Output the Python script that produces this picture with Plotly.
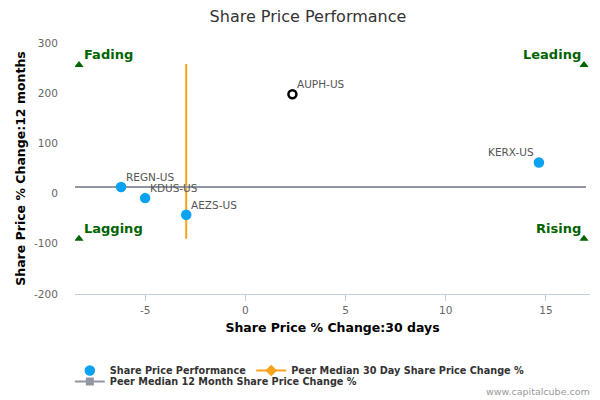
import plotly.graph_objects as go

# Data
tickers = ["REGN-US", "KDUS-US", "AEZS-US", "KERX-US"]
x30 = [-6.2, -5.0, -2.95, 14.65]
y12 = [13, -9, -42, 62]

focus_ticker = ["AUPH-US"]
focus_x = [2.35]
focus_y = [198]

median30_x = [-2.95, -2.95]
median30_y = [-90, 258]
median12_x = [-8.5, 17.0]
median12_y = [13, 13]

quad_names = ["Fading", "Leading", "Lagging", "Rising"]
quad_x = [-8.3, 16.9, -8.3, 16.9]
quad_y = [256, 256, -90, -90]

x_ticks = [-5, 0, 5, 10, 15]
y_ticks = [-200, -100, 0, 100, 200, 300]

FONT = "DejaVu Sans"
fig = go.Figure()

fig.add_trace(go.Scatter(x=median30_x, y=median30_y, mode="lines",
                         line=dict(color="#F7A21B", width=2), showlegend=False, hoverinfo="skip"))
fig.add_trace(go.Scatter(x=median12_x, y=median12_y, mode="lines",
                         line=dict(color="#9097A3", width=2), showlegend=False, hoverinfo="skip"))

fig.add_trace(go.Scatter(x=x30, y=y12, mode="markers", name="<b>Share Price Performance</b>",
                         marker=dict(color="#0BA2F2", size=10.5), showlegend=True, legend="legend"))
fig.add_trace(go.Scatter(x=focus_x, y=focus_y, mode="markers",
                         marker=dict(color="white", size=8, line=dict(color="black", width=2.5)),
                         showlegend=False))

# legend proxies
fig.add_trace(go.Scatter(x=[None], y=[None], mode="lines+markers", legend="legend",
                         name="<b>Peer Median 30 Day Share Price Change %</b>",
                         line=dict(color="#F7A21B", width=2), marker=dict(symbol="diamond", size=9, color="#F7A21B")))
fig.add_trace(go.Scatter(x=[None], y=[None], mode="lines+markers", legend="legend2",
                         name="<b>Peer Median 12 Month Share Price Change %</b>",
                         line=dict(color="#9097A3", width=2), marker=dict(symbol="square", size=8, color="#9097A3")))

# quadrant markers
fig.add_trace(go.Scatter(x=quad_x, y=quad_y, mode="markers", showlegend=False,
                         marker=dict(symbol="triangle-up", color="#006400", size=8)))

# point labels
for t, xv, yv in zip(tickers + focus_ticker, x30 + focus_x, y12 + focus_y):
    left = t == "KERX-US"
    fig.add_annotation(x=xv, y=yv, text=t, showarrow=False,
                       xanchor="right" if left else "left", yanchor="bottom",
                       xshift=-3 if left else 3, yshift=2,
                       font=dict(family=FONT, size=10.5, color="#555555"))

for n, xv, yv in zip(quad_names, quad_x, quad_y):
    right = xv > 0
    fig.add_annotation(x=xv, y=yv, text="<b>" + n + "</b>", showarrow=False,
                       xanchor="right" if right else "left", yanchor="bottom",
                       xshift=-1 if right else 3, yshift=1,
                       font=dict(family=FONT, size=13, color="#006400"))

fig.add_annotation(xref="paper", yref="paper", x=1.004, y=-0.39, text="www.capitalcube.com",
                   showarrow=False, xanchor="right", yanchor="middle",
                   font=dict(family=FONT, size=9.5, color="#999999"))

legend_font = dict(family=FONT, size=9.7, color="#333333")
fig.update_layout(
    width=600, height=400,
    paper_bgcolor="white", plot_bgcolor="white",
    margin=dict(l=67, r=18, t=35, b=114, autoexpand=False),
    title=dict(text="Share Price Performance", x=0.5, xanchor="center", y=0.98, yanchor="middle",
               xref="container", font=dict(family=FONT, size=16, color="#333333")),
    font=dict(family=FONT),
    xaxis=dict(range=[-8.5, 17.2], tickvals=x_ticks, ticktext=[str(v) for v in x_ticks],
               showgrid=False, zeroline=False,
               showline=True, linecolor="#C0D0E0", linewidth=1, ticks="outside", tickcolor="#C0D0E0",
               ticklen=6, tickfont=dict(family=FONT, size=10.5, color="#666666"),
               title=dict(text="<b>Share Price % Change:30 days</b>",
                          font=dict(family=FONT, size=12.5, color="#000000"), standoff=8)),
    yaxis=dict(range=[-200, 300], tickvals=y_ticks, ticktext=[str(v) for v in y_ticks],
               showgrid=False, zeroline=False, ticks="outside", ticklen=14,
               tickcolor="rgba(0,0,0,0)",
               showline=False, tickfont=dict(family=FONT, size=10.5, color="#666666"),
               title=dict(text="<b>Share Price % Change:12 months</b>",
                          font=dict(family=FONT, size=12.5, color="#000000"), standoff=5)),
    legend=dict(orientation="h", x=-0.01, xanchor="left", y=-0.247, yanchor="top",
                font=legend_font, itemwidth=30, bgcolor="rgba(0,0,0,0)"),
    legend2=dict(orientation="h", x=-0.01, xanchor="left", y=-0.291, yanchor="top",
                 font=legend_font, itemwidth=30, bgcolor="rgba(0,0,0,0)"),
    showlegend=True,
)

fig.write_html("out.html")
